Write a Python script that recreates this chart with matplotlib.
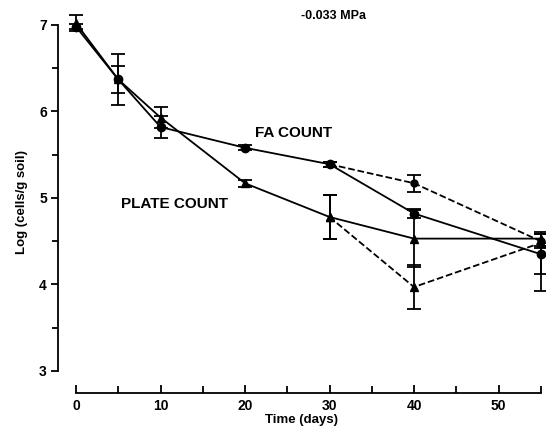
import matplotlib
matplotlib.use("Agg")
import matplotlib.pyplot as plt
import numpy as np

plt.rcParams['font.family'] = ['Liberation Sans', 'DejaVu Sans']
plt.rcParams['font.weight'] = 'bold'

# Dữ liệu
days = [0, 5, 10, 20, 30, 40, 55]
fa_count = [6.98, 6.37, 5.82, 5.58, 5.39, 4.82, 4.35]
fa_err = [0.03, 0.29, 0.13, 0.03, 0.03, 0.05, 0.23]
plate_count = [7.02, 6.37, 5.93, 5.17, 4.78, 4.53, 4.53]
plate_err = [0.09, 0.16, 0.12, 0.04, 0.25, 0.33, 0.08]

# nhánh nét đứt từ ngày 30
alt_days = [30, 40, 55]
fa_alt = [5.39, 5.17, 4.50]
fa_alt_err = [0.03, 0.10, 0.08]
plate_alt = [4.78, 3.97, 4.48]
plate_alt_lo = [0.25, 0.25, 0.56]
plate_alt_hi = [0.25, 0.25, 0.10]

x_major = [0, 10, 20, 30, 40, 50]
x_minor = [5, 15, 25, 35, 45, 55]
y_major = [3, 4, 5, 6, 7]
y_minor = [3.5, 4.5, 5.5, 6.5]

fig = plt.figure(figsize=(5.52, 4.37), dpi=100)
ax = fig.add_axes([58 / 552, 1 - 393 / 437, 487 / 552, 383 / 437])

ebkw = dict(color='black', capsize=5, elinewidth=1.3, capthick=1.3, lw=1.3)
ax.errorbar(days, fa_count, yerr=fa_err, fmt='-o', ms=6, **ebkw)
ax.errorbar(days, plate_count, yerr=plate_err, fmt='-^', ms=6, **ebkw)
ax.errorbar(alt_days, fa_alt, yerr=fa_alt_err, fmt='--o', ms=5, **ebkw)
ax.errorbar(alt_days, plate_alt, yerr=[plate_alt_lo, plate_alt_hi], fmt='--^', ms=6, **ebkw)

ax.text(25.7, 5.75, "FA COUNT", ha='center', va='center', fontsize=11, fontweight='bold')
ax.text(11.7, 4.93, "PLATE COUNT", ha='center', va='center', fontsize=11, fontweight='bold')
ax.text(30.5, 7.1, "-0.033 MPa", ha='center', va='center', fontsize=9, fontweight='bold')

ax.set_xlim(-2.13, 55.5)
ax.set_ylim(2.745, 7.173)

for s in ['top', 'right']:
    ax.spines[s].set_visible(False)
ax.spines['left'].set_bounds(3, 7)
ax.spines['bottom'].set_bounds(0, 55)
ax.spines['left'].set_linewidth(1.3)
ax.spines['bottom'].set_linewidth(1.3)

ax.set_xticks(x_major)
ax.set_xticks(x_minor, minor=True)
ax.set_yticks(y_major)
ax.set_yticks(y_minor, minor=True)
ax.tick_params(axis='x', which='major', direction='in', length=6, width=1.3, labelsize=10, pad=4)
ax.tick_params(axis='x', which='minor', direction='in', length=5, width=1.3)
ax.tick_params(axis='y', which='major', direction='out', length=5, width=1.3, labelsize=10, pad=3)
ax.tick_params(axis='y', which='minor', direction='out', length=4, width=1.3)

ax.set_xlabel("Time (days)", fontsize=9.5, fontweight='bold', labelpad=1)
ax.set_ylabel("Log (cells/g soil)", fontsize=9.5, fontweight='bold', labelpad=8)

fig.savefig("out.png", dpi=100)
